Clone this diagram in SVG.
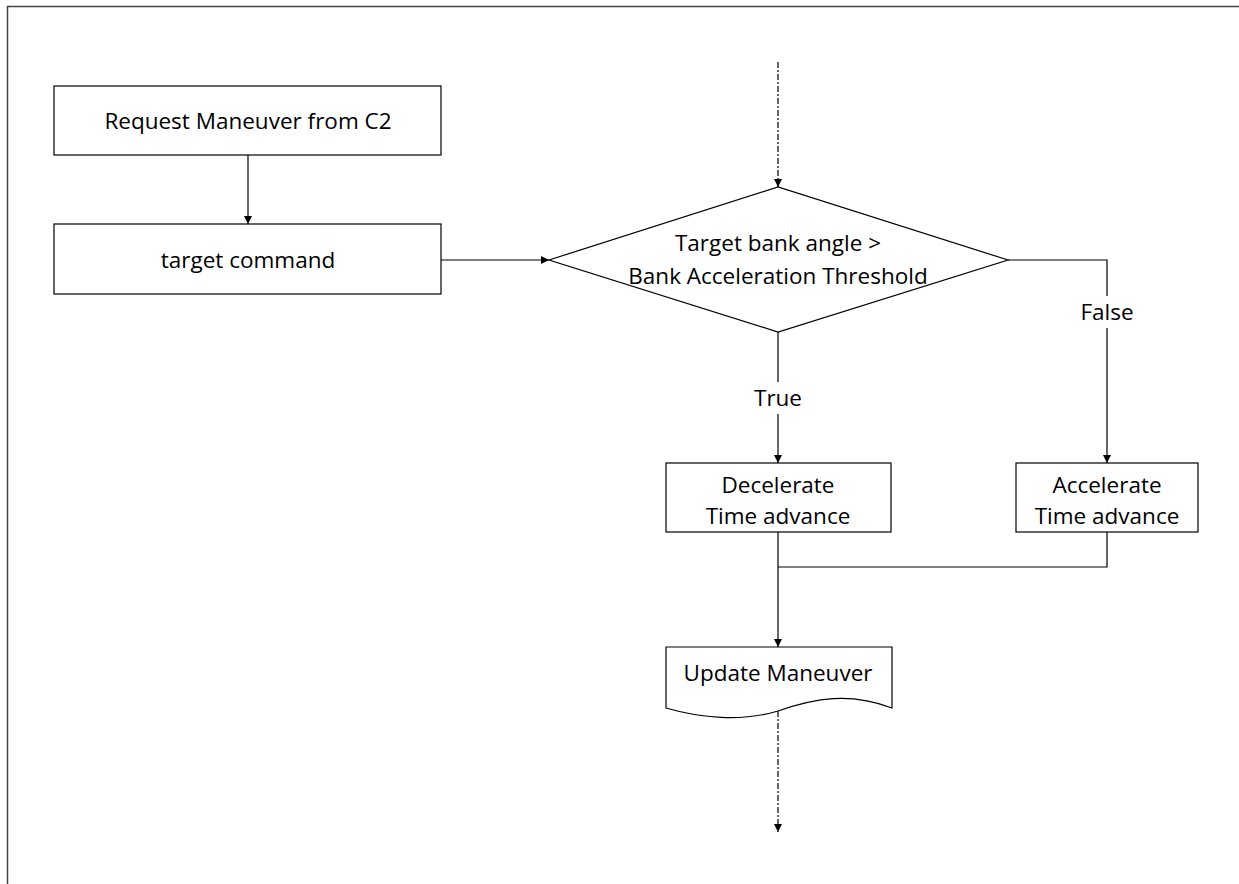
<svg xmlns="http://www.w3.org/2000/svg" width="1239" height="884" viewBox="0 0 1239 884">
<style>
.box{fill:#fff;stroke:#000;stroke-width:1.2}
.ln{fill:none;stroke:#000;stroke-width:1.2}
.dash{fill:none;stroke:#000;stroke-width:1.2;stroke-dasharray:6 2 2 2}
text{font-family:"Open Sans","Liberation Sans",sans-serif;font-size:22.5px;fill:#000;text-anchor:middle}
</style>
<defs>
<marker id="arr" viewBox="0 0 10 10" refX="10" refY="5" markerWidth="8" markerHeight="8" markerUnits="userSpaceOnUse" orient="auto">
<path d="M0,0 L10,5 L0,10 Z" fill="#000"/>
</marker>
</defs>
<rect x="7.5" y="6.5" width="1245" height="900" fill="#fff" stroke="#444" stroke-width="1.5"/>
<g id="connectors">
<line class="ln" x1="248" y1="155" x2="248" y2="224" marker-end="url(#arr)"/>
<line class="ln" x1="441" y1="260" x2="549" y2="260" marker-end="url(#arr)"/>
<line class="dash" x1="778" y1="62" x2="778" y2="187" marker-end="url(#arr)"/>
<line class="ln" x1="778" y1="332" x2="778" y2="382"/>
<line class="ln" x1="778" y1="414" x2="778" y2="463" marker-end="url(#arr)"/>
<text x="778" y="406">True</text>
<polyline class="ln" points="1008,260 1107,260 1107,296"/>
<line class="ln" x1="1107" y1="328" x2="1107" y2="463" marker-end="url(#arr)"/>
<text x="1107" y="320">False</text>
<polyline class="ln" points="1107,532 1107,567 778,567"/>
<line class="ln" x1="778" y1="532" x2="778" y2="647" marker-end="url(#arr)"/>
<line class="dash" x1="778" y1="711" x2="778" y2="832" marker-end="url(#arr)"/>
</g>
<g id="request">
<rect class="box" x="54" y="86" width="387" height="69"/>
<text x="248" y="129">Request Maneuver from C2</text>
</g>
<g id="target">
<rect class="box" x="54" y="224" width="387" height="70"/>
<text x="248" y="268">target command</text>
</g>
<g id="decision">
<polygon class="box" points="549,260 778,187 1008,260 778,332"/>
<text x="778" y="251">Target bank angle &gt;</text>
<text x="778" y="284">Bank Acceleration Threshold</text>
</g>
<g id="decelerate">
<rect class="box" x="666" y="463" width="225" height="69"/>
<text x="778" y="493">Decelerate</text>
<text x="778" y="524">Time advance</text>
</g>
<g id="accelerate">
<rect class="box" x="1016" y="463" width="182" height="69"/>
<text x="1107" y="493">Accelerate</text>
<text x="1107" y="524">Time advance</text>
</g>
<g id="update">
<path class="box" d="M666,647 H892 V708 C850,692 815,698 778,711 C742,722 700,718 666,708 Z"/>
<text x="778" y="681">Update Maneuver</text>
</g>
</svg>
